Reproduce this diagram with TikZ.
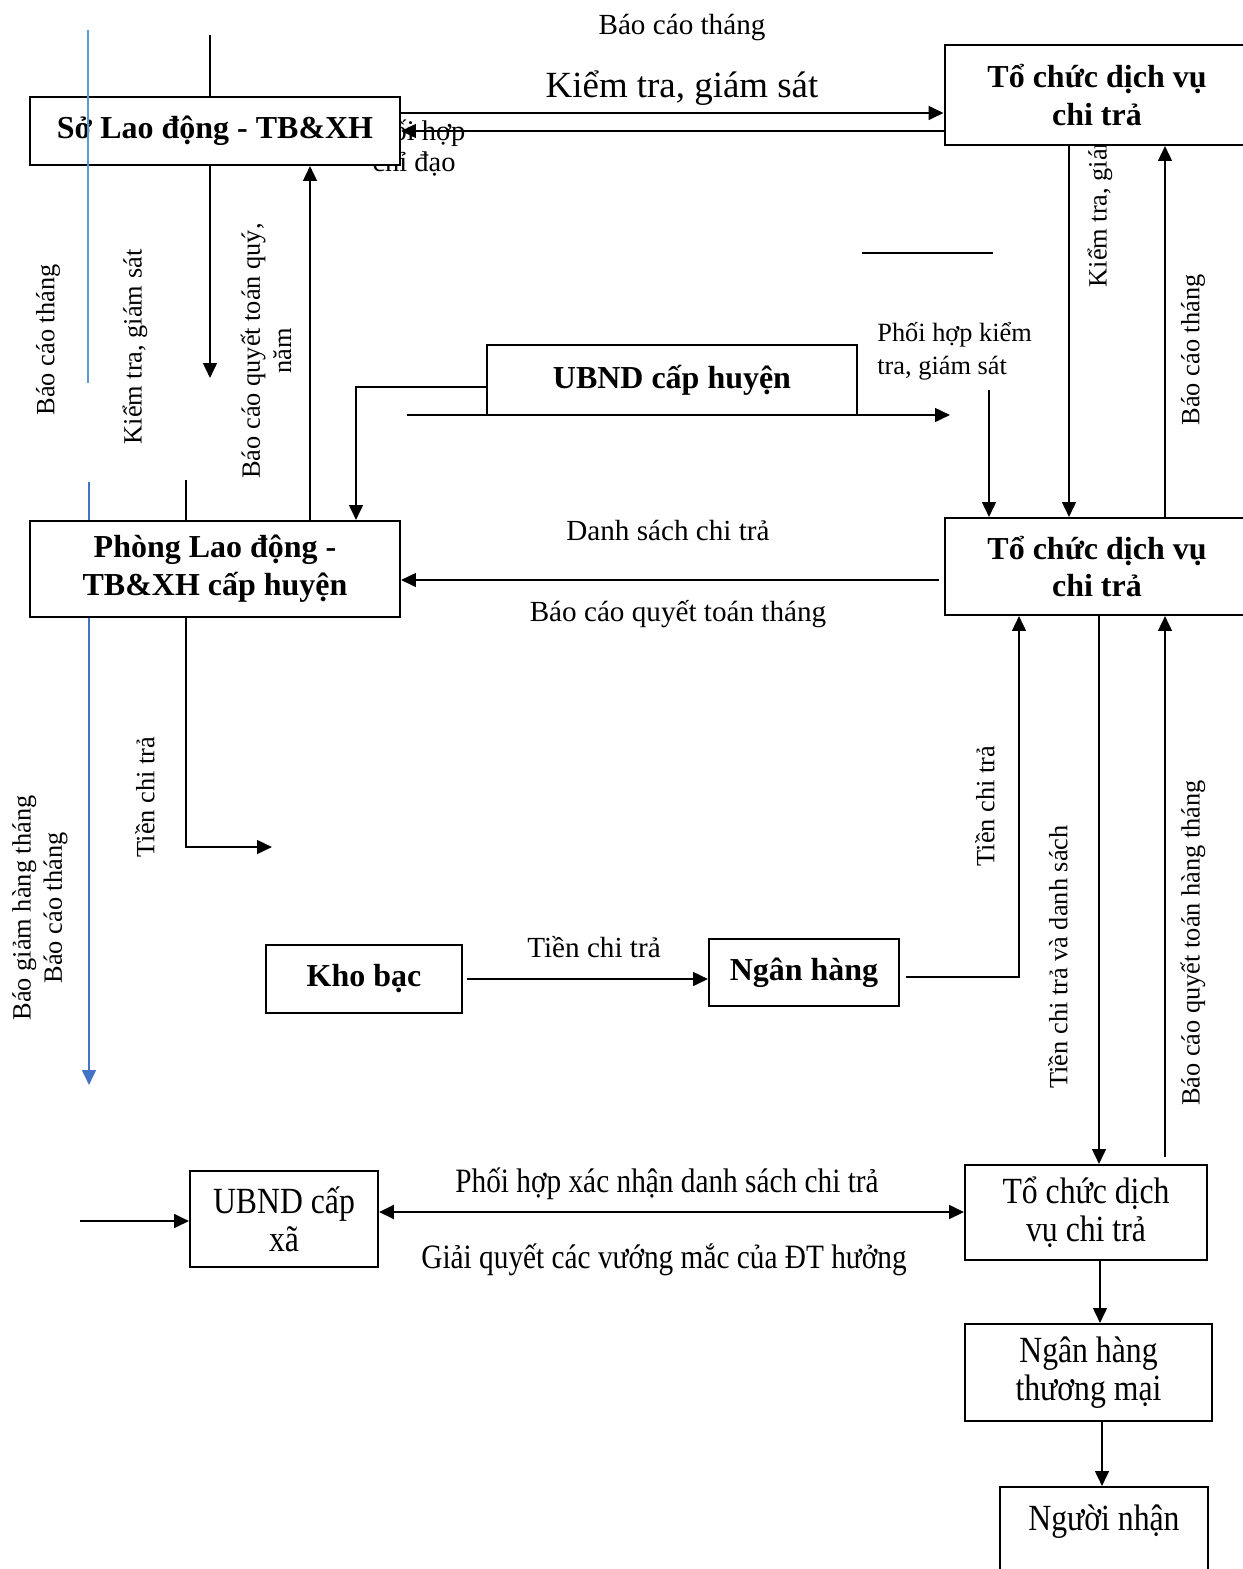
\documentclass[tikz,border=0pt]{standalone}
\usepackage{fontspec}
\setmainfont{Liberation Serif}
\newfontfamily\condfont[FakeStretch=0.86]{Liberation Serif}
\usetikzlibrary{arrows.meta,calc}
\definecolor{bluearrow}{RGB}{68,114,196}
\definecolor{bluethin}{RGB}{91,155,213}

\begin{document}
\begin{tikzpicture}[x=0.02cm, y=-0.02cm, >={Triangle[length=8.5pt,width=7.8pt]}]
    \tikzstyle{box}=[draw, fill=white, line width=1.15pt, align=center, inner sep=0pt, font=\bfseries\fontsize{18.2}{21.5}\selectfont]
    \tikzstyle{plainbox}=[draw, fill=white, line width=1.15pt, align=center, inner sep=0pt, font=\condfont\fontsize{21}{21.5}\selectfont]
    \tikzstyle{lbl}=[inner sep=0pt, align=center, font=\fontsize{16.6}{19}\selectfont]
    \tikzstyle{vlbl}=[inner sep=0pt, align=center, rotate=90, font=\fontsize{15}{17.8}\selectfont]
    \tikzstyle{condlbl}=[inner sep=0pt, font=\condfont\fontsize{19.4}{21}\selectfont]
    \tikzstyle{flow}=[->, line width=1.3pt]

    \useasboundingbox (0,0) rectangle (1242,1569);

    % labels partly hidden by the boxes
    \node[lbl, font=\fontsize{16.2}{17.5}\selectfont] (lbPH) at (414,148) {Phối hợp\\chỉ đạo};
    \node[vlbl] (lbKTr) at (1100,190) {Kiểm tra, giám sát};

    \coordinate (blC) at (89,482);
    \coordinate (blD) at (89,1085);
    \draw[->, line width=1.3pt, bluearrow] (blC) -- (blD);

    % boxes
    \node[box, minimum width=7.4cm, minimum height=1.36cm] (so) at (215,131) {Sở Lao động - TB\&XH};
    \node[box, minimum width=6.1cm, minimum height=2.0cm] (tcdvA) at (1097,95) {Tổ chức dịch vụ\\chi trả};
    \node[box, minimum width=7.4cm, minimum height=1.4cm] (ubndh) at (672,380) {UBND cấp huyện};
    \node[box, minimum width=6.1cm, minimum height=1.94cm] (tcdvB) at (1097,566.5) {Tổ chức dịch vụ\\chi trả};
    \node[box, minimum width=7.4cm, minimum height=1.92cm] (phong) at (215,569) {Phòng Lao động -\\TB\&XH cấp huyện};
    \node[box, minimum width=3.92cm, minimum height=1.36cm] (kho) at (364,979) {Kho bạc};
    \node[box, minimum width=3.8cm, minimum height=1.34cm] (nh) at (804,972.5) {Ngân hàng};
    \node[plainbox, minimum width=4.84cm, minimum height=1.9cm] (tcdvC) at (1086,1212.5) {Tổ chức dịch\\vụ chi trả};
    \node[plainbox, minimum width=3.76cm, minimum height=1.92cm] (xa) at (284,1219) {UBND cấp\\xã};
    \node[plainbox, minimum width=4.94cm, minimum height=1.94cm] (nhtm) at (1088.5,1372.5) {Ngân hàng\\thương mại};
    \node[plainbox, anchor=north, minimum width=4.16cm, inner ysep=0.12cm, text height=0.74cm, text depth=2cm] (nguoi) at (1104,1486) {Người nhận};

    \coordinate (blA) at (88,30);
    \coordinate (blB) at (88,383);
    \draw[line width=0.6pt, bluethin] (blA) -- (blB);

    % connectors
    \coordinate (stubA) at (210,35);
    \draw[line width=1.3pt] (stubA) -- (stubA |- so.north);
    \draw[flow] ($(so.east)+(0,-18)$) coordinate (kt) -- (kt -| tcdvA.west);
    \draw[flow] ($(tcdvA.west)+(0,36)$) -- (so.east);
    \coordinate (ktB) at (210,378);
    \draw[flow] (so.south -| ktB) -- (ktB);
    \draw[flow] ($(phong.north)+(95,0)$) -- ($(so.south)+(95,0)$);
    \coordinate (stubB) at (186,480);
    \draw[line width=1.1pt] (stubB) -- (stubB |- phong.north);
    \draw[flow] ($(ubndh.west)+(0,7)$) -| ($(phong.north)+(141,0)$);
    \coordinate (hA) at (407,415);
    \coordinate (hB) at (950,415);
    \draw[flow] (hA) -- (hB);
    \coordinate (lnA) at (862,253);
    \coordinate (lnB) at (993,253);
    \draw[line width=1.1pt] (lnA) -- (lnB);
    \coordinate (phA) at (989,390);
    \draw[flow] (phA) -- (phA |- tcdvB.north);
    \draw[flow] ($(tcdvA.south)+(-28,0)$) -- ($(tcdvB.north)+(-28,0)$);
    \draw[flow] ($(tcdvB.north)+(68,0)$) -- ($(tcdvA.south)+(68,0)$);
    \draw[flow] ($(tcdvB.west)+(-5,13.5)$) coordinate (ds) -- (ds -| phong.east);
    \coordinate (tcA) at (272,847);
    \draw[flow] ($(phong.south)+(-29,0)$) |- (tcA);
    \draw[flow] ($(kho.east)+(4,0)$) coordinate (k) -- (k -| nh.west);
    \draw[flow] ($(nh.east)+(6,4.5)$) -| ($(tcdvB.south)+(-78,0)$);
    \draw[flow] ($(tcdvB.south)+(2,0)$) coordinate (td) -- (td |- tcdvC.north);
    \draw[flow] ($(tcdvC.north)+(79,-7)$) coordinate (bq) -- (bq |- tcdvB.south);
    \coordinate (xin) at (80,1221);
    \draw[flow, line width=1.5pt] (xin) -- (xin -| xa.west);
    \draw[<->, line width=1.6pt] ($(xa.east)+(0,-7)$) coordinate (xr) -- (xr -| tcdvC.west);
    \draw[flow] ($(tcdvC.south)+(14,0)$) coordinate (tn) -- (tn |- nhtm.north);
    \draw[flow] ($(nhtm.south)+(13.5,0)$) coordinate (nn) -- (nn |- nguoi.north);

    % labels
    \node[lbl] (lbBCT) at (682,28) {Báo cáo tháng};
    \node[lbl, font=\fontsize{21}{24}\selectfont] (lbKT) at (682,88) {Kiểm tra, giám sát};
    \node[vlbl] (lbBCTl) at (48,340) {Báo cáo tháng};
    \node[vlbl] (lbKTl) at (135,347) {Kiểm tra, giám sát};
    \node[vlbl] (lbQT) at (266,351) {Báo cáo quyết toán quý,\\năm};
    \node[lbl, align=left, anchor=west, font=\fontsize{15}{18.7}\selectfont] (lbPHK) at (877,351) {Phối hợp kiểm\\tra, giám sát};
    \node[vlbl] (lbBCTr) at (1193,350) {Báo cáo tháng};
    \node[lbl] (lbDS) at (668,530) {Danh sách chi trả};
    \node[lbl] (lbBQT) at (678,614) {Báo cáo quyết toán tháng};
    \node[vlbl] (lbTCT1) at (145,797) {Tiền chi trả};
    \node[vlbl] (lbBG) at (40,908) {Báo giảm hàng tháng\\Báo cáo tháng};
    \node[lbl] (lbTCT2) at (594,947) {Tiền chi trả};
    \node[vlbl] (lbTCT3) at (985,806) {Tiền chi trả};
    \node[vlbl] (lbTCD) at (1058,957) {Tiền chi trả và danh sách};
    \node[vlbl] (lbBQTh) at (1193,943) {Báo cáo quyết toán hàng tháng};
    \node[condlbl] (lbPHX) at (667,1184) {Phối hợp xác nhận danh sách chi trả};
    \node[condlbl] (lbGQ) at (664,1260) {Giải quyết các vướng mắc của ĐT hưởng};
\end{tikzpicture}
\end{document}
